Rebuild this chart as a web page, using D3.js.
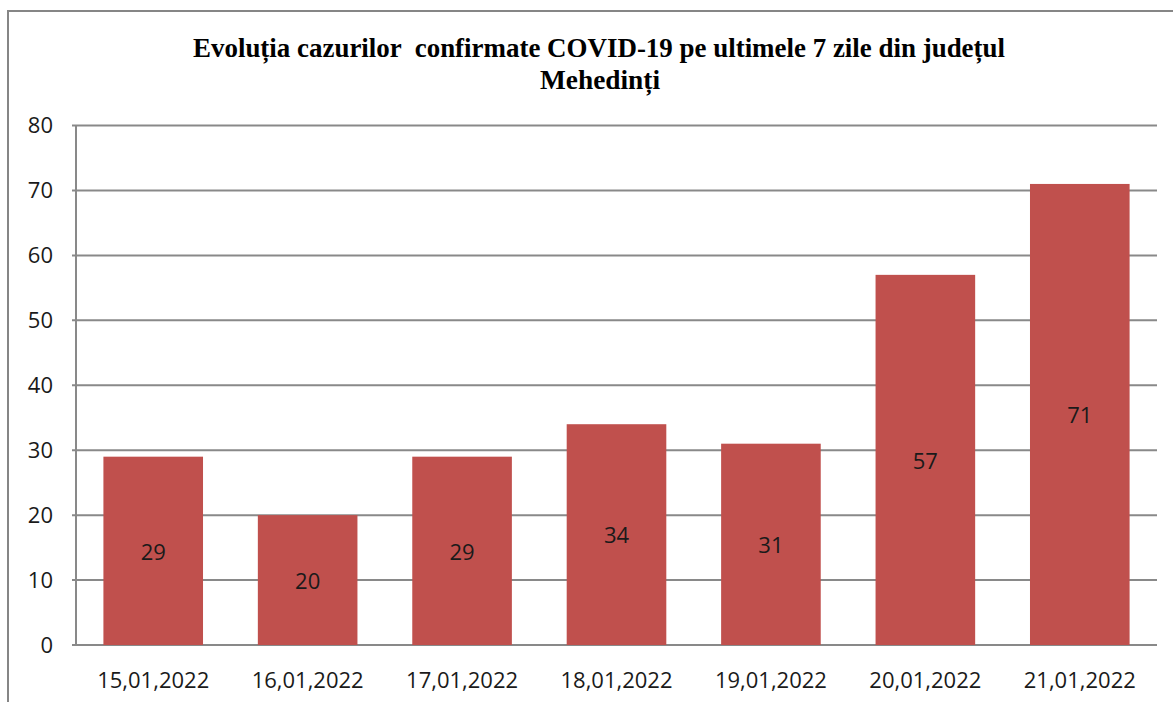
<!DOCTYPE html>
<html><head><meta charset="utf-8">
<script src="https://cdn.jsdelivr.net/npm/d3@7"></script>
<style>body{margin:0;background:#fff}svg{display:block}</style>
</head><body>
<script>
const categories = ["15,01,2022","16,01,2022","17,01,2022","18,01,2022","19,01,2022","20,01,2022","21,01,2022"];
const values = [29,20,29,34,31,57,71];
const yTicks = [0,10,20,30,40,50,60,70,80];
const titleLines = ["Evoluția cazurilor  confirmate COVID-19 pe ultimele 7 zile din județul","Mehedinți"];

const W = 1173, H = 702;
const svg = d3.select("body").append("svg").attr("width", W).attr("height", H);
svg.append("rect").attr("x",8).attr("y",11).attr("width",W).attr("height",H)
  .attr("fill","#fff").attr("stroke","#868686").attr("stroke-width",2);

const pLeft = 76, pRight = 1157, pTop = 125.5, pBottom = 645;
const x = d3.scaleBand().domain(categories).range([pLeft,pRight]).paddingInner(0.355).paddingOuter(0.1775);
const y = d3.scaleLinear().domain([0,80]).range([pBottom,pTop]);
const font = "Open Sans, sans-serif";

// gridlines
svg.append("g").selectAll("line").data(yTicks).join("line")
  .attr("x1",pLeft-4).attr("x2",pRight).attr("y1",d=>y(d)).attr("y2",d=>y(d))
  .attr("stroke","#898989").attr("stroke-width",2);
svg.append("line").attr("x1",pLeft).attr("x2",pLeft).attr("y1",pTop).attr("y2",pBottom)
  .attr("stroke","#898989").attr("stroke-width",2);

svg.append("g").selectAll("text").data(yTicks).join("text")
  .attr("x",53).attr("y",d=>y(d)).attr("dy","0.36em").attr("text-anchor","end")
  .attr("font-family",font).attr("font-size",22).attr("fill","#1a1a1a")
  .text(d=>d);

svg.append("g").selectAll("rect").data(values).join("rect")
  .attr("x",(d,i)=>x(categories[i])).attr("width",x.bandwidth())
  .attr("y",d=>y(d)).attr("height",d=>pBottom-y(d)).attr("fill","#C0504D");

svg.append("g").selectAll("text").data(values).join("text")
  .attr("x",(d,i)=>x(categories[i])+x.bandwidth()/2).attr("y",d=>(y(d)+pBottom)/2)
  .attr("dy","0.4em").attr("text-anchor","middle")
  .attr("font-family",font).attr("font-size",22).attr("fill","#1a1a1a")
  .text(d=>d);

svg.append("g").selectAll("text").data(categories).join("text")
  .attr("x",d=>x(d)+x.bandwidth()/2).attr("y",688).attr("text-anchor","middle")
  .attr("font-family",font).attr("font-size",22).attr("fill","#1a1a1a")
  .text(d=>d);

svg.append("text").attr("x",599).attr("y",57).attr("text-anchor","middle")
  .style("white-space","pre")
  .attr("font-family","Liberation Serif, serif").attr("font-weight","bold").attr("font-size",28)
  .attr("textLength",812).attr("lengthAdjust","spacingAndGlyphs").text(titleLines[0]);
svg.append("text").attr("x",600).attr("y",89).attr("text-anchor","middle")
  .attr("font-family","Liberation Serif, serif").attr("font-weight","bold").attr("font-size",28)
  .attr("textLength",120).attr("lengthAdjust","spacingAndGlyphs").text(titleLines[1]);
</script>
</body></html>
